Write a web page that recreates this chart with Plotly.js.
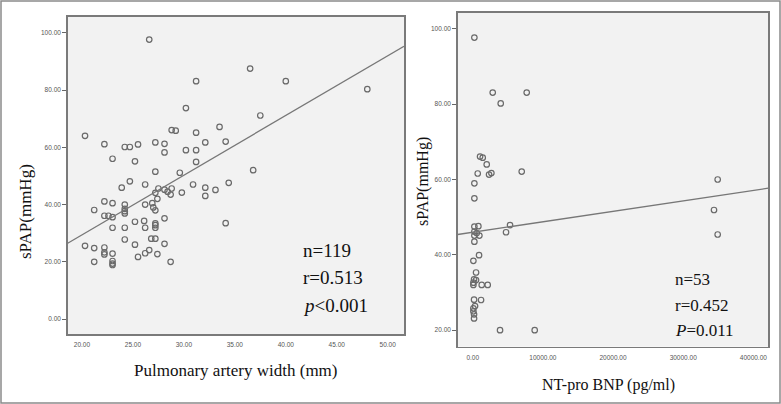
<!DOCTYPE html>
<html>
<head>
<meta charset="utf-8">
<script src="https://cdn.plot.ly/plotly-3.0.1.min.js"></script>
<style>html,body{margin:0;padding:0;background:#fff;}#chart{width:781px;height:404px;}</style>
</head>
<body>
<div id="chart"></div>
<script>
// Left panel: pulmonary artery width (mm) vs sPAP (mmHg)
const paWidth = [26.6,36.5,31.2,40.0,48.0,30.2,37.5,33.5,28.8,29.2,31.2,20.3,34.1,32.1,27.2,22.2,28.1,25.5,24.2,24.7,
  30.2,31.2,28.1,23.0,25.2,31.2,36.8,29.6,27.2,24.7,34.4,26.2,30.9,23.9,32.1,27.5,28.1,28.8,33.1,29.8,
  27.2,28.7,32.1,27.4,22.2,23.0,24.2,26.2,26.9,27.0,21.2,24.2,27.2,24.2,22.2,22.6,23.0,28.1,25.2,26.1,
  34.1,27.2,23.0,24.2,26.2,27.2,24.2,26.8,27.2,20.3,21.2,22.2,25.2,28.1,26.6,26.2,22.2,22.2,23.0,27.4,
  25.5,21.2,23.0,23.0,23.0,28.7,28.4,24.2,27.2];
const paSpap = [97.6,87.5,83.1,83.1,80.3,73.7,71.1,67.1,66.0,65.8,65.1,64.0,62.0,61.7,61.7,61.1,61.2,61.0,60.1,60.1,
  59.0,59.0,58.2,56.0,55.1,54.9,52.0,51.1,51.5,48.1,47.6,47.0,47.0,45.9,45.9,45.6,45.2,45.6,45.1,44.2,
  44.1,43.5,43.0,42.0,41.1,40.5,40.0,40.0,40.5,39.0,38.1,38.5,38.0,36.9,36.1,36.1,35.6,35.2,34.0,34.3,
  33.5,33.4,31.9,31.9,31.9,31.9,27.8,28.1,28.1,25.6,24.8,25.0,26.0,26.3,24.1,23.0,23.3,22.6,22.9,22.7,
  21.7,20.0,20.3,19.4,18.9,20.0,44.5,37.7,32.8];
const paFitX = [18.6, 51.6];
const paFitY = [26.5, 95.3];

// Right panel: NT-pro BNP (pg/ml) vs sPAP (mmHg)
const bnp = [238,2850,7695,3990,1045,1425,1995,713,2328,2660,6983,238,34913,238,34390,238,808,238,570,238,
  950,238,4750,5320,34913,903,95,475,190,475,95,95,1283,2138,190,1188,333,95,95,190,190,3895,8835];
const bnpSpap = [97.7,83.1,83.1,80.2,66.1,65.8,64.0,61.6,61.3,61.7,62.1,59.0,60.0,55.0,51.9,47.5,47.6,46.2,45.8,45.1,
  45.1,43.5,46.0,47.9,45.4,39.9,38.4,35.3,33.5,33.3,32.6,32.0,32.0,32.0,28.1,28.0,26.4,25.8,25.0,24.2,23.1,20.0,20.0];
const bnpFitX = [-2140, 42130];
const bnpFitY = [45.4, 57.7];

const leftXTicks = [20, 25, 30, 35, 40, 45, 50];
const leftYTicks = [0, 20, 40, 60, 80, 100];
const rightXTicks = [0, 10000, 20000, 30000, 40000];
const rightYTicks = [20, 40, 60, 80, 100];

const W = 781, H = 404;
const px = v => v / W;
const py = v => 1 - v / H;

const markerStyle = {symbol: 'circle-open', size: 5.5, color: '#6a6a6a', line: {width: 1.2, color: '#6a6a6a'}};
const fitLine = {color: '#777', width: 1.3};

const traces = [
  {x: paWidth, y: paSpap, type: 'scatter', mode: 'markers', marker: markerStyle, xaxis: 'x', yaxis: 'y', hoverinfo: 'x+y'},
  {x: paFitX, y: paFitY, type: 'scatter', mode: 'lines', line: fitLine, xaxis: 'x', yaxis: 'y'},
  {x: bnp, y: bnpSpap, type: 'scatter', mode: 'markers', marker: markerStyle, xaxis: 'x2', yaxis: 'y2'},
  {x: bnpFitX, y: bnpFitY, type: 'scatter', mode: 'lines', line: fitLine, xaxis: 'x2', yaxis: 'y2'}
];

const tickFont = {family: 'Liberation Sans, Arial, sans-serif', size: 6.5, color: '#555'};
const frame = {showline: true, linecolor: '#7a7a7a', linewidth: 1.5, mirror: true, showgrid: false, zeroline: false};

function fmt(arr) { return arr.map(v => v.toFixed(2)); }

const layout = {
  width: W, height: H,
  margin: {l: 0, r: 0, t: 0, b: 0},
  paper_bgcolor: '#ffffff',
  plot_bgcolor: '#f2f2f2',
  showlegend: false,
  xaxis: Object.assign({}, frame, {domain: [px(67.7), px(404)], range: [18.6, 51.6], anchor: 'y',
    tickmode: 'array', tickvals: leftXTicks, ticktext: fmt(leftXTicks), ticks: 'outside', ticklen: 4, tickcolor: 'rgba(0,0,0,0)', tickfont: tickFont}),
  yaxis: Object.assign({}, frame, {domain: [py(334), py(16.7)], range: [-5.2, 105.6], anchor: 'x',
    tickmode: 'array', tickvals: leftYTicks, ticktext: fmt(leftYTicks), ticks: 'outside', ticklen: 4, tickwidth: 1, tickcolor: '#666', tickfont: tickFont}),
  xaxis2: Object.assign({}, frame, {domain: [px(457.7), px(768.3)], range: [-2140, 42130], anchor: 'y2',
    tickmode: 'array', tickvals: rightXTicks, ticktext: fmt(rightXTicks), ticks: 'outside', ticklen: 4, tickcolor: 'rgba(0,0,0,0)', tickfont: tickFont}),
  yaxis2: Object.assign({}, frame, {domain: [py(346.7), py(12.7)], range: [15.6, 104.3], anchor: 'x2',
    tickmode: 'array', tickvals: rightYTicks, ticktext: fmt(rightYTicks), ticks: 'outside', ticklen: 4, tickwidth: 1, tickcolor: '#666', tickfont: tickFont}),
  annotations: [
    {text: 'sPAP(mmHg)', xref: 'paper', yref: 'paper', x: px(25), y: py(212), textangle: -90, showarrow: false,
      xanchor: 'center', yanchor: 'middle', font: {family: 'Liberation Serif, Times New Roman, serif', size: 17, color: '#111'}},
    {text: 'Pulmonary artery width (mm)', xref: 'paper', yref: 'paper', x: px(236), y: py(370), showarrow: false,
      xanchor: 'center', yanchor: 'middle', font: {family: 'Liberation Serif, Times New Roman, serif', size: 17, color: '#111'}},
    {text: 'sPAP(mmHg)', xref: 'paper', yref: 'paper', x: px(423), y: py(182), textangle: -90, showarrow: false,
      xanchor: 'center', yanchor: 'middle', font: {family: 'Liberation Serif, Times New Roman, serif', size: 16, color: '#111'}},
    {text: 'NT-pro BNP (pg/ml)', xref: 'paper', yref: 'paper', x: px(608), y: py(385), showarrow: false,
      xanchor: 'center', yanchor: 'middle', font: {family: 'Liberation Serif, Times New Roman, serif', size: 16, color: '#111'}},
    {text: 'n=119', xref: 'paper', yref: 'paper', x: px(301), y: py(250), showarrow: false, xanchor: 'left', yanchor: 'middle',
      font: {family: 'Liberation Serif, Times New Roman, serif', size: 19, color: '#111'}},
    {text: 'r=0.513', xref: 'paper', yref: 'paper', x: px(301), y: py(277), showarrow: false, xanchor: 'left', yanchor: 'middle',
      font: {family: 'Liberation Serif, Times New Roman, serif', size: 19, color: '#111'}},
    {text: '<i>p</i><0.001', xref: 'paper', yref: 'paper', x: px(301), y: py(305), showarrow: false, xanchor: 'left', yanchor: 'middle',
      font: {family: 'Liberation Serif, Times New Roman, serif', size: 19, color: '#111'}},
    {text: 'n=53', xref: 'paper', yref: 'paper', x: px(673), y: py(279), showarrow: false, xanchor: 'left', yanchor: 'middle',
      font: {family: 'Liberation Serif, Times New Roman, serif', size: 17, color: '#111'}},
    {text: 'r=0.452', xref: 'paper', yref: 'paper', x: px(673), y: py(305), showarrow: false, xanchor: 'left', yanchor: 'middle',
      font: {family: 'Liberation Serif, Times New Roman, serif', size: 17, color: '#111'}},
    {text: '<i>P</i>=0.011', xref: 'paper', yref: 'paper', x: px(673), y: py(330), showarrow: false, xanchor: 'left', yanchor: 'middle',
      font: {family: 'Liberation Serif, Times New Roman, serif', size: 17, color: '#111'}}
  ],
  shapes: [
    {type: 'rect', xref: 'paper', yref: 'paper', x0: px(1), x1: px(780), y0: py(403), y1: py(1), line: {color: '#8a8a8a', width: 1.5}, fillcolor: 'rgba(0,0,0,0)', layer: 'above'}
  ]
};

Plotly.newPlot('chart', traces, layout, {staticPlot: true, displayModeBar: false});
</script>
</body>
</html>
